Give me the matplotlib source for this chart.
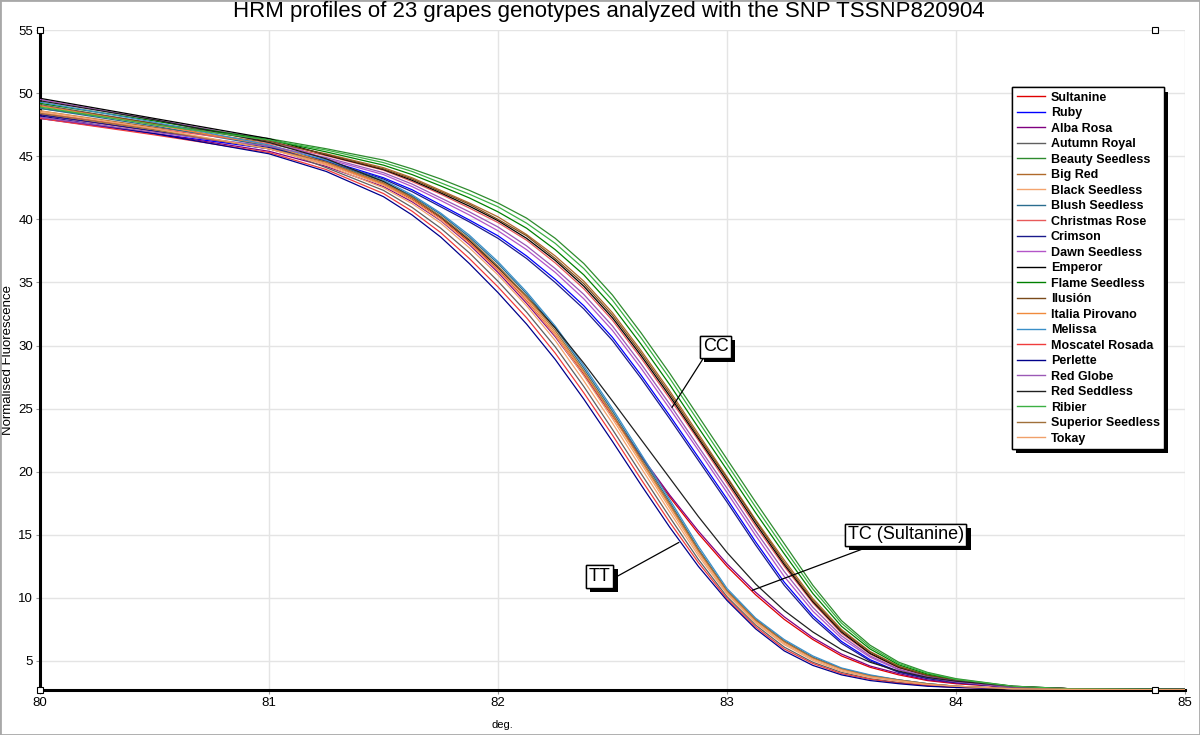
import matplotlib
matplotlib.use("Agg")
import matplotlib.pyplot as plt
from matplotlib import patheffects
from matplotlib.patches import Rectangle

plt.rcParams["font.family"] = ["Liberation Sans", "DejaVu Sans"]

# temperature grid (deg.)
temps = [80, 80.5, 81, 81.25, 81.5, 81.625, 81.75, 81.875, 82, 82.125, 82.25, 82.375,
         82.5, 82.625, 82.75, 82.875, 83, 83.125, 83.25, 83.375, 83.5, 83.625, 83.75,
         83.875, 84, 84.25, 84.5, 85]

# normalised fluorescence, one list per genotype
sultanine = [48.3, 47.0, 45.6, 44.4, 42.8, 41.6, 40.1, 38.2, 36.0, 33.55, 30.8, 27.7, 24.4, 21.15,
             18.0, 15.1, 12.5, 10.25, 8.3, 6.7, 5.4, 4.5, 3.9, 3.45, 3.2, 2.9, 2.8, 2.75]
ruby = [48.0, 46.8, 45.6, 44.7, 43.3, 42.35, 41.15, 39.95, 38.7, 37.1, 35.25, 33.15, 30.65, 27.65,
        24.45, 21.15, 17.85, 14.45, 11.25, 8.6, 6.55, 5.1, 4.15, 3.65, 3.3, 2.9, 2.8, 2.75]
alba_rosa = [48.1, 46.8, 45.4, 44.2, 42.6, 41.4, 39.9, 38.0, 35.8, 33.35, 30.7, 27.65, 24.45, 21.25,
             18.15, 15.3, 12.7, 10.45, 8.5, 6.85, 5.55, 4.6, 4.0, 3.5, 3.25, 2.95, 2.8, 2.75]
autumn_royal = [49.1, 47.6, 45.8, 44.1, 42.3, 40.95, 39.3, 37.35, 35.1, 32.65, 29.9, 26.75, 23.35, 19.85,
                16.4, 13.05, 10.1, 7.85, 6.1, 4.9, 4.1, 3.6, 3.3, 3.1, 2.95, 2.8, 2.75, 2.72]
beauty_seedless = [48.8, 47.6, 46.4, 45.6, 44.7, 44.0, 43.2, 42.3, 41.3, 40.1, 38.5, 36.5, 34.0, 31.0,
                   27.8, 24.4, 21.0, 17.6, 14.3, 11.0, 8.2, 6.25, 4.9, 4.1, 3.6, 3.0, 2.8, 2.75]
big_red = [48.6, 47.3, 46.1, 45.2, 44.1, 43.3, 42.3, 41.3, 40.2, 38.8, 37.1, 35.1, 32.6, 29.6,
           26.4, 23.0, 19.6, 16.2, 13.0, 9.95, 7.5, 5.75, 4.6, 3.9, 3.5, 2.95, 2.8, 2.75]
black_seedless = [48.5, 47.1, 45.6, 44.3, 42.5, 41.25, 39.7, 37.75, 35.6, 33.15, 30.4, 27.2, 23.85, 20.3,
                  16.8, 13.35, 10.3, 8.0, 6.3, 5.05, 4.2, 3.7, 3.4, 3.1, 2.95, 2.8, 2.75, 2.72]
blush_seedless = [48.8, 47.4, 45.8, 44.6, 43.0, 41.85, 40.4, 38.6, 36.5, 34.1, 31.4, 28.2, 24.8, 21.2,
                  17.6, 13.9, 10.6, 8.3, 6.6, 5.3, 4.4, 3.85, 3.5, 3.2, 3.0, 2.8, 2.75, 2.72]
christmas_rose = [48.4, 47.2, 46.0, 45.05, 43.9, 43.0, 42.0, 40.9, 39.75, 38.35, 36.55, 34.5, 32.0, 29.0,
                  25.8, 22.5, 19.1, 15.7, 12.5, 9.6, 7.2, 5.55, 4.45, 3.8, 3.45, 2.95, 2.8, 2.75]
crimson = [48.3, 47.0, 45.7, 44.6, 43.2, 42.2, 41.0, 39.8, 38.5, 36.9, 35.0, 32.9, 30.4, 27.4,
           24.2, 20.9, 17.6, 14.2, 11.0, 8.4, 6.4, 5.0, 4.1, 3.6, 3.3, 2.9, 2.8, 2.75]
dawn_seedless = [49.5, 47.9, 46.3, 44.8, 43.55, 42.6, 41.5, 40.35, 39.1, 37.6, 35.8, 33.7, 31.2, 28.2,
                 25.0, 21.7, 18.35, 14.95, 11.7, 8.95, 6.8, 5.3, 4.3, 3.7, 3.35, 2.9, 2.8, 2.75]
emperor = [49.6, 48.0, 46.4, 45.1, 43.95, 43.1, 42.1, 41.05, 39.9, 38.5, 36.75, 34.7, 32.2, 29.2,
           26.0, 22.65, 19.3, 15.9, 12.65, 9.7, 7.3, 5.6, 4.5, 3.85, 3.45, 2.95, 2.8, 2.75]
flame_seedless = [49.2, 47.8, 46.3, 45.35, 44.3, 43.55, 42.65, 41.7, 40.6, 39.3, 37.6, 35.6, 33.1, 30.1,
                  26.9, 23.5, 20.15, 16.75, 13.5, 10.35, 7.75, 5.95, 4.7, 3.97, 3.52, 2.97, 2.8, 2.75]
ilusion = [49.0, 47.6, 46.2, 45.15, 44.0, 43.2, 42.2, 41.2, 40.0, 38.7, 36.9, 34.9, 32.4, 29.4,
           26.2, 22.8, 19.5, 16.1, 12.8, 9.8, 7.4, 5.7, 4.55, 3.85, 3.45, 2.95, 2.8, 2.75]
italia_pirovano = [49.0, 47.5, 45.9, 44.5, 42.8, 41.65, 40.15, 38.3, 36.15, 33.75, 31.0, 27.85, 24.45, 20.85,
                   17.3, 13.7, 10.5, 8.2, 6.5, 5.2, 4.35, 3.8, 3.45, 3.15, 3.0, 2.8, 2.75, 2.72]
melissa = [49.3, 47.7, 45.9, 44.7, 43.1, 41.95, 40.5, 38.75, 36.65, 34.25, 31.55, 28.4, 25.0, 21.4,
           17.8, 14.1, 10.75, 8.4, 6.7, 5.4, 4.45, 3.9, 3.5, 3.2, 3.0, 2.8, 2.75, 2.72]
moscatel_rosada = [48.0, 46.7, 45.3, 43.95, 42.05, 40.65, 38.95, 36.9, 34.65, 32.2, 29.4, 26.25, 22.9, 19.4,
                   16.0, 12.8, 9.95, 7.7, 5.95, 4.8, 4.0, 3.55, 3.25, 3.05, 2.9, 2.8, 2.75, 2.72]
perlette = [48.2, 46.8, 45.2, 43.8, 41.8, 40.35, 38.6, 36.5, 34.2, 31.7, 28.9, 25.75, 22.4, 18.95,
            15.6, 12.5, 9.8, 7.55, 5.8, 4.65, 3.9, 3.45, 3.2, 3.0, 2.9, 2.8, 2.75, 2.72]
red_globe = [48.1, 46.9, 45.8, 44.9, 43.7, 42.8, 41.7, 40.6, 39.4, 37.9, 36.1, 34.05, 31.55, 28.55,
             25.35, 22.0, 18.7, 15.3, 12.1, 9.25, 7.0, 5.4, 4.35, 3.75, 3.4, 2.95, 2.8, 2.75]
red_seddless = [49.4, 47.9, 46.1, 44.8, 43.0, 41.75, 40.2, 38.35, 36.2, 33.9, 31.4, 28.6, 25.6, 22.55,
                19.5, 16.45, 13.6, 11.1, 9.0, 7.3, 5.9, 4.9, 4.2, 3.7, 3.4, 3.0, 2.8, 2.75]
ribier = [48.9, 47.5, 46.3, 45.5, 44.5, 43.8, 42.9, 42.0, 41.0, 39.7, 38.1, 36.1, 33.6, 30.6,
          27.4, 24.0, 20.6, 17.2, 13.9, 10.7, 8.0, 6.1, 4.8, 4.05, 3.55, 3.0, 2.8, 2.75]
superior_seedless = [48.4, 47.1, 45.6, 44.55, 42.9, 41.75, 40.25, 38.45, 36.3, 33.9, 31.2, 28.0, 24.6, 21.0,
                     17.45, 13.8, 10.55, 8.25, 6.55, 5.25, 4.35, 3.8, 3.5, 3.2, 3.0, 2.8, 2.75, 2.72]
tokay = [48.6, 47.2, 45.6, 44.4, 42.7, 41.5, 39.95, 38.1, 35.95, 33.5, 30.8, 27.6, 24.2, 20.65,
         17.1, 13.55, 10.4, 8.1, 6.4, 5.15, 4.3, 3.75, 3.45, 3.15, 3.0, 2.8, 2.75, 2.72]

names = ["Sultanine", "Ruby", "Alba Rosa", "Autumn Royal", "Beauty Seedless", "Big Red",
         "Black Seedless", "Blush Seedless", "Christmas Rose", "Crimson", "Dawn Seedless",
         "Emperor", "Flame Seedless", "Ilusión", "Italia Pirovano", "Melissa",
         "Moscatel Rosada", "Perlette", "Red Globe", "Red Seddless", "Ribier",
         "Superior Seedless", "Tokay"]
curves = [sultanine, ruby, alba_rosa, autumn_royal, beauty_seedless, big_red,
          black_seedless, blush_seedless, christmas_rose, crimson, dawn_seedless,
          emperor, flame_seedless, ilusion, italia_pirovano, melissa,
          moscatel_rosada, perlette, red_globe, red_seddless, ribier,
          superior_seedless, tokay]
colors = ["#e00000", "#0000ff", "#800080", "#606060", "#2e8b2e", "#b06a2a",
          "#f4a46e", "#2a6d8f", "#e85a5a", "#1a1a8c", "#b355c8",
          "#000000", "#008000", "#7a4a1a", "#f08a3c", "#3a8fc8",
          "#f03c3c", "#00008b", "#9b59b6", "#202020", "#3cb043",
          "#a0703a", "#f0a06a"]

fig = plt.figure(figsize=(12, 7.35), dpi=100)
ax = fig.add_axes([0.0333, 0.0612, 0.9542, 0.8978])

for name, ys, c in zip(names, curves, colors):
    ax.plot(temps, ys, color=c, lw=0.9, label=name, zorder=3)

ax.set_xlim(80, 85)
ax.set_ylim(2.7, 55)
ax.set_xticks([80, 81, 82, 83, 84, 85])
ax.set_yticks(range(5, 56, 5))
ax.grid(True, color="#e4e4e4", lw=1)
ax.set_axisbelow(True)
for s in ["top", "right"]:
    ax.spines[s].set_visible(False)
for s in ["left", "bottom"]:
    ax.spines[s].set_linewidth(2.2)
    ax.spines[s].set_zorder(2)
ax.tick_params(axis="both", length=3, color="#999999", labelsize=9.5, pad=2)

ax.set_xlabel("deg.", fontsize=8)
ax.xaxis.set_label_coords(0.404, -0.045)
ax.set_ylabel("Normalised Fluorescence", fontsize=9.5, labelpad=3)

fig.suptitle("HRM profiles of 23 grapes genotypes analyzed with the SNP TSSNP820904",
             x=0.507, y=0.998, fontsize=16)

# small handle squares on the axes corners
for xa, ya in [(0, 1), (0, 0), (0.974, 0), (0.974, 1)]:
    ax.plot(xa, ya, marker="s", ms=5, mfc="white", mec="black", mew=0.8,
            transform=ax.transAxes, clip_on=False, zorder=5)

shadow = [patheffects.withSimplePatchShadow(offset=(3, -3), shadow_rgbFace="black", alpha=1),
          patheffects.Normal()]

leg = ax.legend(loc="upper left", bbox_to_anchor=(0.8435, 0.881), bbox_transform=fig.transFigure,
                prop={"weight": "bold", "size": 9}, fancybox=False, framealpha=1,
                edgecolor="black", borderpad=0.35, labelspacing=0.28,
                handlelength=2.3, handletextpad=0.45, borderaxespad=0)
leg.get_frame().set_linewidth(1)
leg.get_frame().set_path_effects(shadow)
for line in leg.get_lines():
    line.set_linewidth(1.0)

labels = [("CC", (82.76, 25.1), (82.95, 29.9), (0.1, 0)),
          ("TT", (82.79, 14.4), (82.445, 11.7), (1, 0.3)),
          ("TC (Sultanine)", (83.11, 10.6), (83.78, 15.0), (0.26, 0))]
for txt, xy, xyt, rp in labels:
    ann = ax.annotate(txt, xy=xy, xytext=xyt, ha="center", va="center", fontsize=13,
                      bbox=dict(boxstyle="square,pad=0.15", fc="white", ec="black", lw=1),
                      arrowprops=dict(arrowstyle="-", color="black", lw=0.9, relpos=rp,
                                      shrinkA=0, shrinkB=0), zorder=6)
    ann.get_bbox_patch().set_path_effects(shadow)

fig.patches.append(Rectangle((0, 0), 1, 1, transform=fig.transFigure, fill=False,
                             ec="#a8a8a8", lw=2))

fig.savefig("out.png", dpi=100)
